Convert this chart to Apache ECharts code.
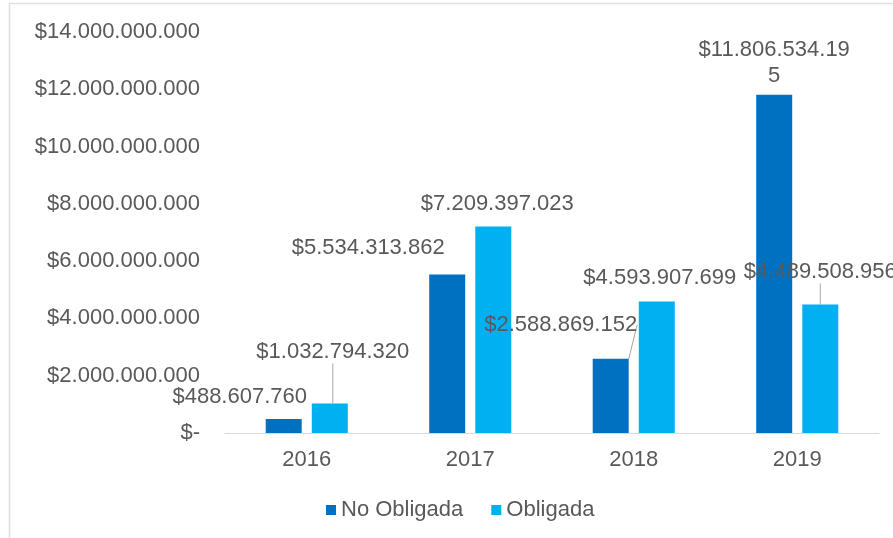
<!DOCTYPE html>
<html>
<head>
<meta charset="utf-8">
<script src="https://cdn.jsdelivr.net/npm/echarts@6/dist/echarts.min.js"></script>
<style>
  html, body { margin: 0; padding: 0; background: #fff; }
  #chart { width: 893px; height: 538px; }
</style>
</head>
<body>
<div id="chart"></div>
<script>
var years = ['2016', '2017', '2018', '2019'];
var noObligada = [488607760, 5534313862, 2588869152, 11806534195];
var obligada = [1032794320, 7209397023, 4593907699, 4489508956];
var yTicks = [0, 2000000000, 4000000000, 6000000000, 8000000000, 10000000000, 12000000000, 14000000000];

// label shifts from the default "top" spot, per bar
var noShift = [[-44, -6], [-79, -11], [-50, -18], [0, -1]];
var siShift = [[3, -35], [4, -7], [3, -7], [0, -16]];
var noLine = [false, false, true, false];
var siLine = [true, false, false, true];

function money(v) {
    if (v === 0) return '$-';
    return '$' + String(Math.round(v)).replace(/\B(?=(\d{3})+(?!\d))/g, '.');
}

var txt = '#595959';
var fontF = '"Liberation Sans", Arial, sans-serif';

function items(vals, lines, wrapIdx) {
    return vals.map(function (v, i) {
        var it = { value: v, labelLine: { show: lines[i] } };
        if (i === wrapIdx) it.label = { width: 158, overflow: 'breakAll', lineHeight: 26 };
        return it;
    });
}

function barLabel() {
    return {
        show: true,
        position: 'top',
        distance: 5,
        color: txt,
        fontSize: 22,
        fontFamily: fontF,
        formatter: function (p) { return money(p.value); }
    };
}

var option = {
    animation: false,
    color: ['#0070C0', '#00B0F0'],
    textStyle: { fontFamily: fontF },
    graphic: [{
        type: 'polyline',
        shape: { points: [[9.5, 600], [9.5, 3.5], [900, 3.5]] },
        style: { stroke: '#e0e0e0', lineWidth: 1.5, fill: null },
        silent: true
    }],
    legend: {
        bottom: 12,
        left: 321,
        icon: 'rect',
        itemWidth: 10,
        itemHeight: 10,
        itemGap: 28,
        textStyle: { color: txt, fontSize: 22, fontFamily: fontF },
        data: ['No Obligada', 'Obligada']
    },
    grid: { left: 225, right: 14, top: 32, bottom: 105 },
    xAxis: {
        type: 'category',
        data: years,
        axisLine: { lineStyle: { color: '#d9d9d9', width: 1 } },
        axisTick: { show: false },
        axisLabel: { color: txt, fontSize: 22, fontFamily: fontF, margin: 16 }
    },
    yAxis: {
        type: 'value',
        min: yTicks[0],
        max: yTicks[yTicks.length - 1],
        interval: yTicks[1] - yTicks[0],
        splitLine: { show: false },
        axisLine: { show: false },
        axisTick: { show: false },
        axisLabel: {
            color: txt, fontSize: 22, fontFamily: fontF, margin: 25,
            formatter: money
        }
    },
    series: [
        {
            name: 'No Obligada',
            type: 'bar',
            barWidth: 36,
            barGap: '28%',
            data: items(noObligada, noLine, 3),
            label: barLabel(),
            labelLine: { lineStyle: { color: '#a6a6a6', width: 1 } },
            labelLayout: function (p) {
                return { dx: noShift[p.dataIndex][0], dy: noShift[p.dataIndex][1] };
            }
        },
        {
            name: 'Obligada',
            type: 'bar',
            barWidth: 36,
            data: items(obligada, siLine, -1),
            label: barLabel(),
            labelLine: { lineStyle: { color: '#a6a6a6', width: 1 } },
            labelLayout: function (p) {
                return { dx: siShift[p.dataIndex][0], dy: siShift[p.dataIndex][1] };
            }
        }
    ]
};

var chart = echarts.init(document.getElementById('chart'));
chart.setOption(option);
</script>
</body>
</html>
